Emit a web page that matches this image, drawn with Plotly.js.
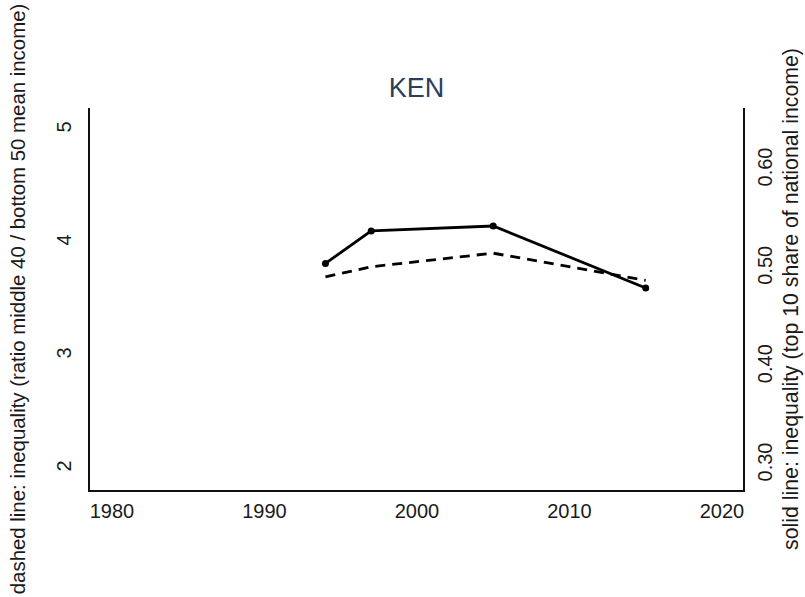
<!DOCTYPE html>
<html>
<head>
<meta charset="utf-8">
<script src="https://cdn.plot.ly/plotly-3.0.1.min.js"></script>
<style>html,body{margin:0;padding:0;background:#fff;}#chart{width:805px;height:597px;}</style>
</head>
<body>
<div id="chart"></div>
<script>
// Data
const years = [1994, 1997, 2005, 2015];
const top10Share = [0.505, 0.538, 0.543, 0.480];      // solid line, right axis
const ratioMiddleBottom = [3.70, 3.79, 3.91, 3.67];   // dashed line, left axis
const xTicks = [1980, 1990, 2000, 2010, 2020];
const leftTicks = [2, 3, 4, 5];
const rightTicks = [0.30, 0.40, 0.50, 0.60];
const rightTickText = ["0.30", "0.40", "0.50", "0.60"];
const countryCode = "KEN";

const traces = [
  {
    x: years, y: ratioMiddleBottom, yaxis: 'y', type: 'scatter', mode: 'lines',
    line: {color: '#000', width: 2.8, dash: '10px,7px'}, hoverinfo: 'skip'
  },
  {
    x: years, y: top10Share, yaxis: 'y2', type: 'scatter', mode: 'lines+markers',
    line: {color: '#000', width: 2.8}, marker: {color: '#000', size: 7}, hoverinfo: 'skip'
  }
];

const fam = 'Liberation Sans, Arial, sans-serif';
const tickFont = {family: fam, size: 20, color: '#1a1a1a'};

const layout = {
  width: 805, height: 597,
  margin: {l: 90, r: 62, t: 108, b: 107, autoexpand: false},
  paper_bgcolor: '#fff', plot_bgcolor: '#fff',
  showlegend: false,
  title: {text: countryCode, x: 0.5175, xanchor: 'center', y: 1 - 88/597, yanchor: 'middle',
          font: {family: fam, size: 27, color: '#2a3f5f'}},
  xaxis: {
    range: [1978.56, 2021.38], tickvals: xTicks, ticktext: xTicks.map(String),
    showgrid: false, zeroline: false, showline: true, linecolor: '#111', linewidth: 2,
    ticks: 'outside', ticklen: 2, tickcolor: 'rgba(0,0,0,0)', tickfont: tickFont, automargin: false
  },
  yaxis: {
    range: [1.814, 5.195], tickvals: leftTicks, ticktext: leftTicks.map(String), tickangle: -90,
    showgrid: false, zeroline: false, showline: true, linecolor: '#111', linewidth: 2,
    ticks: 'outside', ticklen: 9, tickcolor: 'rgba(0,0,0,0)', tickfont: tickFont, automargin: false,
    title: {text: 'dashed line: inequality (ratio middle 40 / bottom 50 mean income)',
            font: {family: fam, size: 20.4, color: '#1a1a1a'}, standoff: 22}
  },
  yaxis2: {
    overlaying: 'y', side: 'right',
    range: [0.2746, 0.663], tickvals: rightTicks, ticktext: rightTickText, tickangle: -90,
    showgrid: false, zeroline: false, showline: true, linecolor: '#111', linewidth: 2,
    ticks: 'outside', ticklen: 3, tickcolor: 'rgba(0,0,0,0)', tickfont: tickFont, automargin: false,
    title: {text: 'solid line: inequality (top 10 share of national income)',
            font: {family: fam, size: 21.3, color: '#1a1a1a'}, standoff: 8}
  }
};

Plotly.newPlot('chart', traces, layout, {displayModeBar: false, staticPlot: true});
</script>
</body>
</html>
